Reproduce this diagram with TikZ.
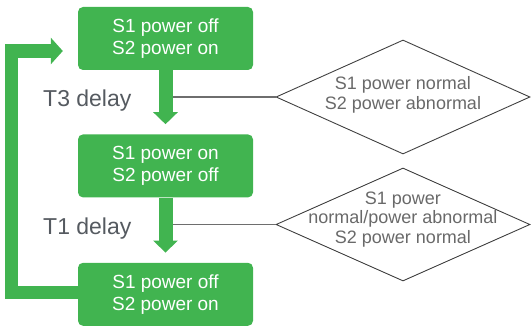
\documentclass[tikz,border=0pt]{standalone}
\usepackage{fontspec}
\setmainfont{Liberation Sans}
\usetikzlibrary{arrows.meta,shapes.geometric,positioning}
\definecolor{stategreen}{RGB}{65,180,80}
\definecolor{labelgray}{RGB}{85,90,96}
\definecolor{textgray}{RGB}{105,105,105}
\definecolor{linegray}{RGB}{110,110,110}
\definecolor{edgegray}{RGB}{64,64,64}

\begin{document}
\begin{tikzpicture}[x=1pt,y=-1pt,
  state/.style={rounded corners=5pt,fill=stategreen,text=white,minimum width=175pt,minimum height=63pt,align=center,inner sep=0pt,font={\fontsize{19}{22}\selectfont}},
  decision/.style={diamond,draw=edgegray,line width=0.9pt,minimum width=254pt,minimum height=114pt,inner sep=0pt},
  decisiontext/.style={text=textgray,align=center,font={\fontsize{18}{19.5}\selectfont}},
  delay/.style={text=labelgray,anchor=base west,inner sep=0pt,font={\fontsize{23}{23}\selectfont}},
  flow/.style={line width=14pt,stategreen,-{Triangle[length=12pt,width=24pt]}},
  tie/.style={linegray,line width=1.2pt}]
\useasboundingbox (0,0) rectangle (531,326);

% states
\node[state] (s1) at (165.5,38.5) {S1 power off\\S2 power on};
\node[state,below=64pt of s1] (s2) {S1 power on\\S2 power off};
\node[state,below=65pt of s2] (s3) {S1 power off\\S2 power on};

% arrow tips between the states
\coordinate (a1) at ([yshift=-54pt]s1.south);
\coordinate (a2) at ([yshift=-55pt]s2.south);

% conditions
\node[decision] (d1) at (403,97) {};
\node[decision,minimum height=113pt] (d2) at (403,224.5) {};
\node[decisiontext] (d1text) at ([yshift=2pt]d1.center) {S1 power normal\\S2 power abnormal};
\node[decisiontext] (d2text) at ([yshift=5pt]d2.center) {S1 power\\normal/power abnormal\\S2 power normal};

\draw[tie] (d1.west) -- (d1.west -| a1);
\draw[tie] (d2.west) -- (d2.west -| a2);

% delays
\draw[flow] (s1.south) -- (a1);
\draw[flow] (s2.south) -- (a2);
\node[delay] (t3) at (43,107) {T3 delay};
\node[delay] (t1) at (43,235) {T1 delay};

% back to the first state
\coordinate (loopin) at ([xshift=-15pt,yshift=-12.5pt]s1.west);
\coordinate (loopout) at ([yshift=2pt]s3.west);
\coordinate (loopside) at (11.5,0);
\draw[flow,line width=13.5pt,line join=miter,-{Triangle[length=12pt,width=26pt]}] (loopout) -| (loopside |- loopin) -- (loopin);

\end{tikzpicture}
\end{document}
